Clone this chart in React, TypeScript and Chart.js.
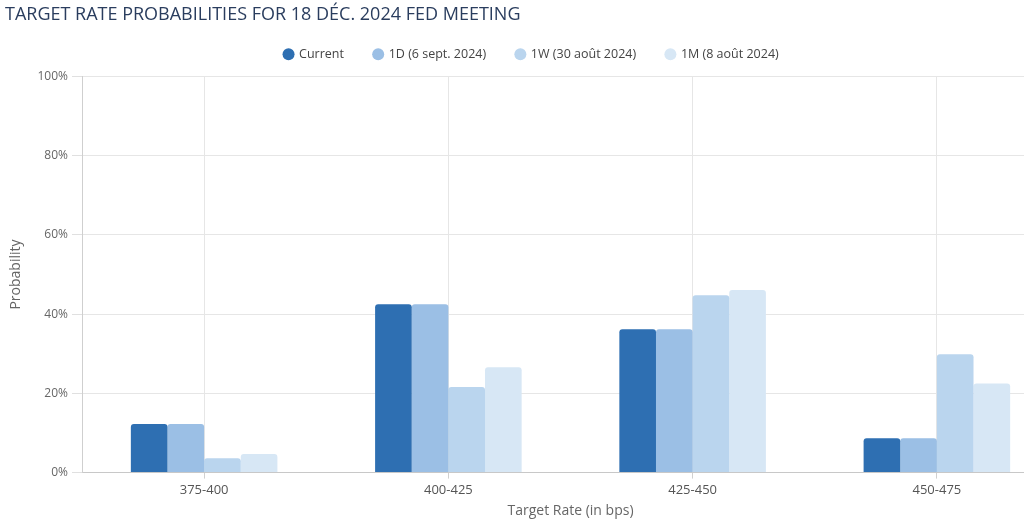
import React, { useEffect, useRef } from "react";
import { Chart, registerables } from "chart.js";

Chart.register(...registerables);

const categories = ["375-400", "400-425", "425-450", "450-475"];
const seriesNames = ["Current", "1D (6 sept. 2024)", "1W (30 août 2024)", "1M (8 août 2024)"];
const currentValues = [12.3, 42.5, 36.2, 8.7];
const oneDayValues = [12.3, 42.5, 36.2, 8.7];
const oneWeekValues = [3.6, 21.6, 44.8, 29.9];
const oneMonthValues = [4.7, 26.6, 46.1, 22.5];
const seriesColors = ["#2e6fb2", "#9bbfe5", "#bad5ee", "#d7e7f5"];
const yTicks = [0, 20, 40, 60, 80, 100];
const titleText = "TARGET RATE PROBABILITIES FOR 18 DÉC. 2024 FED MEETING";

const FONT = "'Open Sans', 'Noto Sans', sans-serif";

const legendExtra = {
  id: "legendExtra",
  beforeInit(chart: any) {
    const legend = chart.legend;
    if (!legend) return;
    const orig = legend.fit;
    legend.fit = function () {
      orig.call(this);
      this.height += 6;
    };
  },
};

export default function App() {
  const canvasRef = useRef<HTMLCanvasElement | null>(null);

  useEffect(() => {
    const canvas = canvasRef.current;
    if (!canvas) return;
    const allValues = [currentValues, oneDayValues, oneWeekValues, oneMonthValues];
    const chart = new Chart(canvas, {
      type: "bar",
      data: {
        labels: categories,
        datasets: seriesNames.map((name, i) => ({
          label: name,
          data: allValues[i],
          backgroundColor: seriesColors[i],
          borderWidth: 0,
          borderRadius: { topLeft: 3, topRight: 3, bottomLeft: 0, bottomRight: 0 },
          borderSkipped: false,
          barPercentage: 1,
          categoryPercentage: 0.6,
        })),
      },
      plugins: [legendExtra],
      options: {
        animation: false,
        responsive: true,
        maintainAspectRatio: false,
        layout: { padding: { left: 4, right: 11, top: 18, bottom: 0 } },
        plugins: {
          legend: {
            position: "top",
            labels: {
              usePointStyle: true,
              pointStyle: "circle",
              boxWidth: 8.5,
              boxHeight: 8.5,
              padding: 30,
              color: "#444",
              font: { family: FONT, size: 12.5 },
            },
          },
          title: { display: false },
          tooltip: { enabled: false },
        },
        scales: {
          x: {
            offset: true,
            grid: {
              offset: false,
              color: "#e6e6e6",
              tickLength: 6,
              tickColor: "#d0d0d0",
            },
            border: { color: "#c8c8c8" },
            ticks: {
              color: "#555",
              padding: 4,
              font: { family: FONT, size: 13 },
            },
            title: {
              display: true,
              text: "Target Rate (in bps)",
              color: "#666",
              font: { family: FONT, size: 14 },
              padding: { top: 0, bottom: 4 },
            },
          },
          y: {
            min: 0,
            max: 100,
            afterBuildTicks: (scale: any) => {
              scale.ticks = yTicks.map((v) => ({ value: v }));
            },
            afterFit: (scale: any) => {
              scale.width = 78;
            },
            grid: {
              color: "#e6e6e6",
              tickLength: 10,
              tickColor: "#e0e0e0",
            },
            border: { color: "#cfcfcf" },
            ticks: {
              color: "#666",
              padding: 4,
              font: { family: FONT, size: 12 },
              callback: (v: any) => v + "%",
            },
            title: {
              display: true,
              text: "Probability",
              color: "#666",
              font: { family: FONT, size: 14 },
              padding: { top: 4, bottom: 4 },
            },
          },
        },
      },
    });
    return () => chart.destroy();
  }, []);

  return (
    <div
      style={{
        position: "fixed",
        left: 0,
        top: 0,
        width: 1024,
        height: 523,
        overflow: "hidden",
        background: "#fff",
      }}
    >
      <div style={{ position: "absolute", left: 0, top: 0, width: 1070, height: 523 }}>
        <canvas ref={canvasRef} />
      </div>
      <div
        style={{
          position: "absolute",
          left: 5,
          top: 1,
          fontFamily: FONT,
          fontSize: 18,
          color: "#2a3d5e",
          whiteSpace: "nowrap",
          letterSpacing: 0,
        }}
      >
        {titleText}
      </div>
    </div>
  );
}
